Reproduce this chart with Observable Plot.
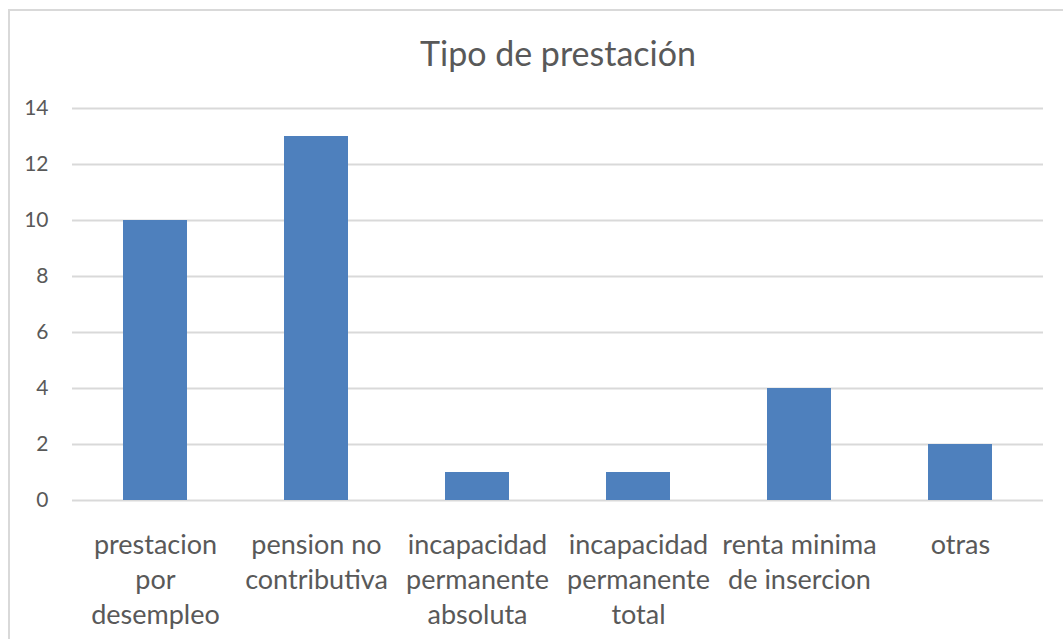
<!DOCTYPE html>
<html>
<head>
<meta charset="utf-8">
<script src="https://cdn.jsdelivr.net/npm/d3@7"></script>
<script src="https://cdn.jsdelivr.net/npm/@observablehq/plot@0.6"></script>
<style>
  html, body { margin: 0; padding: 0; background: #fff; }
  #wrap { position: relative; width: 1063px; height: 639px; overflow: hidden; }
  #border { position: absolute; left: 8px; top: 9px; width: 1100px; height: 700px; border: 2px solid #d9d9d9; box-sizing: border-box; }
  #chart { position: absolute; left: 0; top: 0; }
</style>
</head>
<body>
<div id="wrap"><div id="border"></div><div id="chart"></div></div>
<script>
const title = "Tipo de prestación";
const categories = [
  "prestacion por desempleo",
  "pension no contributiva",
  "incapacidad permanente absoluta",
  "incapacidad permanente total",
  "renta minima de insercion",
  "otras"
];
const tickLabels = [
  "prestacion\npor\ndesempleo",
  "pension no\ncontributiva",
  "incapacidad\npermanente\nabsoluta",
  "incapacidad\npermanente\ntotal",
  "renta minima\nde insercion",
  "otras"
];
const values = [10, 13, 1, 1, 4, 2];
const yTicks = [0, 2, 4, 6, 8, 10, 12, 14];

const data = categories.map((c, i) => ({category: c, value: values[i]}));
const labelOf = new Map(categories.map((c, i) => [c, tickLabels[i]]));

const font = "Lato, 'Open Sans', sans-serif";
const textColor = "#595959";

const chart = Plot.plot({
  width: 1063,
  height: 639,
  marginLeft: 72,
  marginRight: 20,
  marginTop: 108,
  marginBottom: 139,
  style: {fontFamily: font, color: textColor, background: "transparent", overflow: "visible"},
  x: {domain: categories, paddingInner: 0.6, paddingOuter: 0.3, label: null},
  y: {domain: [0, 14], label: null},
  marks: [
    Plot.gridY(yTicks, {stroke: "#d9d9d9", strokeOpacity: 1, strokeWidth: 2}),
    Plot.barY(data, {x: "category", y: "value", fill: "#4e80bd"}),
    Plot.axisY({ticks: yTicks, tickSize: 0, tickPadding: 24, fontSize: 21, fill: textColor, label: null}),
    Plot.axisX({tickSize: 0, tickPadding: 28, fontSize: 27, lineHeight: 1.31, fill: textColor, tickFormat: d => labelOf.get(d), label: null}),
    Plot.text([title], {frameAnchor: "top", dy: -53, fontSize: 34, fill: textColor, lineAnchor: "middle"})
  ]
});
document.getElementById("chart").appendChild(chart);
</script>
</body>
</html>
